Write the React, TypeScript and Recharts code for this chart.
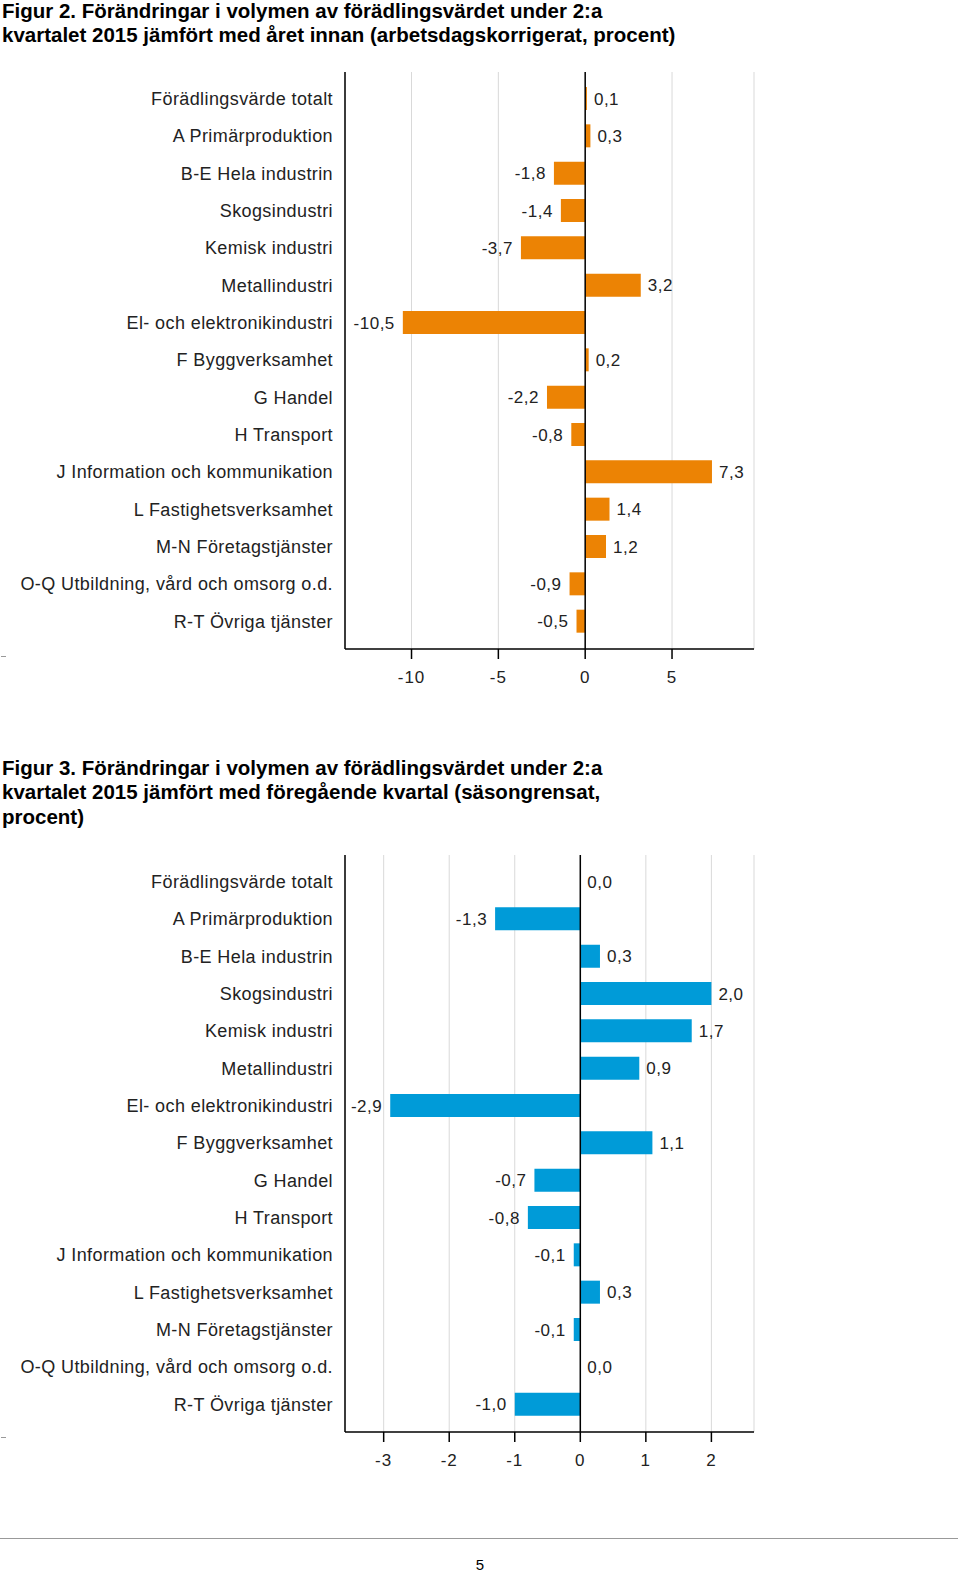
import React from 'react';
import { BarChart, Bar, XAxis, YAxis, CartesianGrid, ReferenceLine, LabelList } from 'recharts';

const categories = [
  'Förädlingsvärde totalt',
  'A Primärproduktion',
  'B-E Hela industrin',
  'Skogsindustri',
  'Kemisk industri',
  'Metallindustri',
  'El- och elektronikindustri',
  'F Byggverksamhet',
  'G Handel',
  'H Transport',
  'J Information och kommunikation',
  'L Fastighetsverksamhet',
  'M-N Företagstjänster',
  'O-Q Utbildning, vård och omsorg o.d.',
  'R-T Övriga tjänster',
];

const annualValues = [0.1, 0.3, -1.8, -1.4, -3.7, 3.2, -10.5, 0.2, -2.2, -0.8, 7.3, 1.4, 1.2, -0.9, -0.5];
const quarterValues = [0.0, -1.3, 0.3, 2.0, 1.7, 0.9, -2.9, 1.1, -0.7, -0.8, -0.1, 0.3, -0.1, 0.0, -1.0];

const annualTicks = [-10, -5, 0, 5];
const quarterTicks = [-3, -2, -1, 0, 1, 2];
const annualDomain: [number, number] = [-13.83, 9.72];
const quarterDomain: [number, number] = [-3.59, 2.65];

const title1 = ['Figur 2. Förändringar i volymen av förädlingsvärdet under 2:a', 'kvartalet 2015 jämfört med året innan (arbetsdagskorrigerat, procent)'];
const title2 = ['Figur 3. Förändringar i volymen av förädlingsvärdet under 2:a', 'kvartalet 2015 jämfört med föregående kvartal (säsongrensat,', 'procent)'];

const FONT = '"Liberation Sans", Arial, sans-serif';
const ORANGE = '#EC8304';
const BLUE = '#009BD8';

const fmt = (v: number) => v.toFixed(1).replace('.', ',');

const ValueLabel = (props: any) => {
  const { x, y, width, height, value } = props;
  const left = Math.min(x, x + width);
  const right = Math.max(x, x + width);
  const neg = value < 0;
  return (
    <text
      x={neg ? left - 8 : right + 7}
      y={y + height / 2}
      dy="0.36em"
      textAnchor={neg ? 'end' : 'start'}
      fontFamily={FONT}
      fontSize={17}
      letterSpacing={0.5}
      fill="#222"
    >
      {fmt(Number(value))}
    </text>
  );
};

function Chart({ values, ticks, domain, color }: { values: number[]; ticks: number[]; domain: [number, number]; color: string }) {
  const data = categories.map((name, i) => ({ name, value: values[i] }));
  return (
    <BarChart
      width={760}
      height={700}
      data={data}
      layout="vertical"
      margin={{ top: 72, right: 6, bottom: 0, left: 0 }}
      barSize={23}
    >
      <CartesianGrid horizontal={false} stroke="#d9d9d9" strokeWidth={1} />
      <XAxis
        type="number"
        domain={domain}
        ticks={ticks}
        allowDataOverflow
        height={51}
        axisLine={{ stroke: '#000', strokeWidth: 1.5 }}
        tickLine={{ stroke: '#000', strokeWidth: 1.5 }}
        tickSize={10}
        tickMargin={12}
        tick={{ fontFamily: FONT, fontSize: 17, fill: '#222', letterSpacing: 1 }}
      />
      <YAxis
        type="category"
        dataKey="name"
        width={345}
        interval={0}
        padding={{ top: 8, bottom: 9 }}
        axisLine={{ stroke: '#000', strokeWidth: 1.5 }}
        tickLine={false}
        tickSize={0}
        tickMargin={12}
        tick={{ fontFamily: FONT, fontSize: 18, fill: '#222', letterSpacing: 0.4 }}
      />
      <ReferenceLine x={0} stroke="#000" strokeWidth={1.5} />
      <Bar dataKey="value" fill={color} minPointSize={0.01} isAnimationActive={false}>
        <LabelList dataKey="value" content={<ValueLabel />} />
      </Bar>
    </BarChart>
  );
}

const titleStyle: React.CSSProperties = {
  position: 'absolute',
  left: 2,
  fontFamily: FONT,
  fontWeight: 'bold',
  fontSize: 20.5,
  lineHeight: '24.3px',
  color: '#000',
  whiteSpace: 'nowrap',
};

export default function App() {
  return (
    <div style={{ position: 'absolute', left: 0, top: 0, width: 960, height: 1572, background: '#fff', overflow: 'hidden' }}>
      <div style={{ ...titleStyle, top: -1 }}>
        {title1.map((t, i) => (
          <div key={i}>{t}</div>
        ))}
      </div>
      <div style={{ position: 'absolute', left: 0, top: 0 }}>
        <Chart values={annualValues} ticks={annualTicks} domain={annualDomain} color={ORANGE} />
      </div>
      <div style={{ position: 'absolute', left: 1, top: 656, width: 5, height: 1, background: '#999' }} />
      <div style={{ ...titleStyle, top: 756 }}>
        {title2.map((t, i) => (
          <div key={i}>{t}</div>
        ))}
      </div>
      <div style={{ position: 'absolute', left: 0, top: 783 }}>
        <Chart values={quarterValues} ticks={quarterTicks} domain={quarterDomain} color={BLUE} />
      </div>
      <div style={{ position: 'absolute', left: 1, top: 1437, width: 5, height: 1, background: '#999' }} />
      <div style={{ position: 'absolute', left: 0, top: 1537.5, width: 958, height: 1.5, background: '#999' }} />
      <div style={{ position: 'absolute', left: 460, width: 40, top: 1556, textAlign: 'center', fontFamily: FONT, fontSize: 15, color: '#000' }}>5</div>
    </div>
  );
}
